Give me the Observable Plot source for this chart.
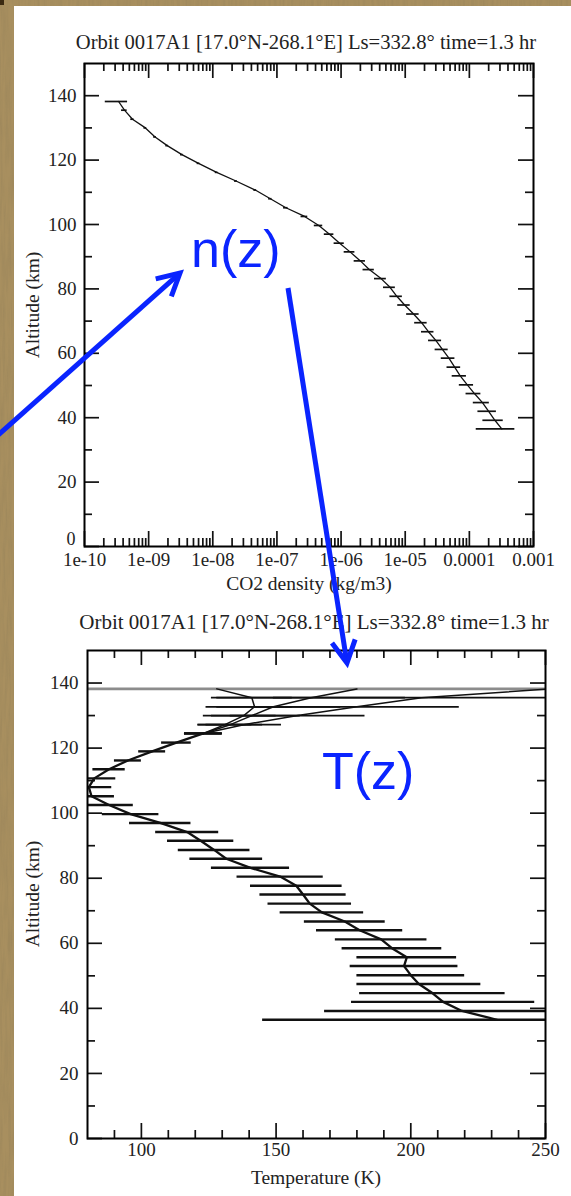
<!DOCTYPE html>
<html><head><meta charset="utf-8">
<script src="https://cdn.jsdelivr.net/npm/d3@7"></script>
<script src="https://cdn.jsdelivr.net/npm/@observablehq/plot@0.6"></script>
<style>
html,body{margin:0;padding:0;}
body{width:571px;height:1196px;background:#a48b5c;position:relative;overflow:hidden;}
#bg{position:absolute;left:0;top:0;}
#panel{position:absolute;left:14px;top:6px;width:557px;height:1190px;background:#fff;}
#corner{position:absolute;left:0;top:0;width:4px;height:5px;background:#3a2a12;}
.plot{position:absolute;left:0;}
#overlay{position:absolute;left:0;top:0;z-index:10;pointer-events:none;}
</style></head><body>
<svg id="bg" width="571" height="1196">
  <filter id="grain" x="0" y="0" width="100%" height="100%">
    <feTurbulence type="fractalNoise" baseFrequency="0.35 0.025" numOctaves="3" seed="7"/>
    <feColorMatrix type="matrix" values="0 0 0 0 0.30  0 0 0 0 0.22  0 0 0 0 0.10  0 0 0 1.6 -0.55"/>
  </filter>
  <rect width="571" height="1196" fill="#a88f5f"/>
  <rect width="571" height="1196" filter="url(#grain)" opacity="0.55"/>
</svg>
<div id="panel"></div>
<div id="corner"></div>
<div id="p1" class="plot" style="top:0"></div>
<div id="p2" class="plot" style="top:600px"></div>
<svg id="overlay" width="571" height="1196"></svg>
<script>
// ---------------- data ----------------
const titleText = "Orbit 0017A1 [17.0°N-268.1°E] Ls=332.8° time=1.3 hr";
const altitude = [36.5,39.2,42.0,44.7,47.5,50.2,53.0,55.7,58.5,61.2,64.0,66.7,69.5,72.2,75.0,77.7,80.5,83.2,86.0,88.7,91.5,94.2,97.0,99.7,102.5,105.2,108.0,110.7,113.5,116.2,119.0,121.7,124.5,127.2,130.0,132.7,135.5,138.2];
const density = [3.2e-4,2.5e-4,2.0e-4,1.6e-4,1.2e-4,9.3e-5,7.2e-5,5.9e-5,4.8e-5,3.8e-5,3.0e-5,2.3e-5,1.8e-5,1.35e-5,9.8e-6,7.4e-6,5.8e-6,4.2e-6,2.75e-6,2.0e-6,1.38e-6,9.5e-7,6.6e-7,4.5e-7,2.7e-7,1.38e-7,7.9e-8,4.6e-8,2.3e-8,1.15e-8,6.0e-9,3.3e-9,1.95e-9,1.26e-9,8.9e-10,5.6e-10,4.2e-10,3.4e-10];
const densityRelErr = [0.6,0.35,0.32,0.28,0.26,0.25,0.25,0.24,0.24,0.23,0.23,0.22,0.22,0.22,0.22,0.22,0.21,0.21,0.2,0.2,0.19,0.18,0.17,0.15,0.12,0.08,0.06,0.05,0.05,0.05,0.05,0.05,0.05,0.05,0.05,0.06,0.1,0.38];
// main temperature profile (altitudes 36.5 .. 124.5 km)
const tempMain = [232,219,212,208,203,200,197.5,198.5,193,189,181,175.5,167,162.5,160,157.5,151.5,140.5,131.5,127,122,117,107,96,88,81.5,80.5,82.5,88,95,104,113,123];
const tempMainErr = [87,51,34,27,23,20,20,18.5,18.5,17,16,15,15.5,15.5,16,17,16,14.5,13.5,13.3,12.3,11.7,11.4,10.5,9,8.5,8.5,8,6,5,5,5.5,7];
// three upper branches (altitudes 124.5 .. 138.2 km)
const tempA = [123,131,138,142,141,128];
const errA  = [7,10,12,14,15,200];
const tempB = [123,133,141,149,163,180];
const errB  = [7,12,18,25,35,200];
const tempC = [123,138,158,180,204,252];
const errC  = [7,14,25,38,55,200];
// axes
const densityDecades = [1e-10,1e-9,1e-8,1e-7,1e-6,1e-5,1e-4,1e-3];
const densityLabels = ["1e-10","1e-09","1e-08","1e-07","1e-06","1e-05","0.0001","0.001"];
const altMajor = [0,20,40,60,80,100,120,140];
const altMinor = [10,30,50,70,90,110,130];
const tempMajor = [100,150,200,250];
const tempMinor = [90,110,120,130,140,160,170,180,190,210,220,230,240];
const altTitle = "Altitude (km)";
const densityTitle = "CO2 density (kg/m3)";
const tempTitle = "Temperature (K)";

// ---------------- layout ----------------
const W = 571;
const serif = "'Liberation Serif','Times New Roman',serif";
const MAJ = 15, MIN = 8;
const ink = "#111";

function frameTicks(pw, ph, xMaj, xMin, yMaj, yMin, xAcc) {
  const o = {stroke: ink, strokeWidth: 1.7};
  return [
    Plot.tickX(xMaj, {x: xAcc, insetTop: ph - MAJ, ...o}),
    Plot.tickX(xMaj, {x: xAcc, insetBottom: ph - MAJ, ...o}),
    Plot.tickX(xMin, {x: xAcc, insetTop: ph - MIN, ...o}),
    Plot.tickX(xMin, {x: xAcc, insetBottom: ph - MIN, ...o}),
    Plot.tickY(yMaj, {y: d => d, insetRight: pw - MAJ, ...o}),
    Plot.tickY(yMaj, {y: d => d, insetLeft: pw - MAJ, ...o}),
    Plot.tickY(yMin, {y: d => d, insetRight: pw - MIN, ...o}),
    Plot.tickY(yMin, {y: d => d, insetLeft: pw - MIN, ...o}),
    Plot.frame({stroke: "#000", strokeWidth: 2})
  ];
}

// ---------- Plot 1: CO2 density ----------
{
  const H = 600, mT = 63, mB = 54, mL = 84, mR = 38;
  const pw = W - mL - mR, ph = H - mT - mB;
  const rows = altitude.map((a, i) => ({alt: a, v: density[i], r: densityRelErr[i]}));
  const minor = densityDecades.slice(0, -1).flatMap(d => [2,3,4,5,6,7,8,9].map(m => m * d));
  const p = Plot.plot({
    width: W, height: H, marginTop: mT, marginBottom: mB, marginLeft: mL, marginRight: mR,
    x: {type: "log", domain: [1e-10, 1e-3], axis: null},
    y: {domain: [0, 150], axis: null},
    style: {fontFamily: serif, fontSize: "19px", color: "#222", background: "transparent", overflow: "visible"},
    marks: [
      Plot.ruleY(rows, {y: "alt", x1: d => d.v * (1 - d.r), x2: d => d.v * (1 + d.r), stroke: ink, strokeWidth: 1.7, clip: true}),
      Plot.line(rows, {x: "v", y: "alt", stroke: ink, strokeWidth: 1.3, clip: true}),
      ...frameTicks(pw, ph, densityDecades, minor, altMajor, altMinor, d => d),
      Plot.text(densityLabels, {x: (d, i) => densityDecades[i], text: d => d, frameAnchor: "bottom", dy: 19, fontSize: 19}),
      Plot.text(altMajor.filter(d => d !== 0), {y: d => d, text: d => String(d), frameAnchor: "left", dx: -8, textAnchor: "end", fontSize: 19}),
      Plot.text([0], {y: d => d, text: d => String(d), frameAnchor: "left", dx: -9, dy: -7, textAnchor: "end", fontSize: 18})
    ]
  });
  document.getElementById("p1").appendChild(p);
}

// ---------- Plot 2: Temperature ----------
{
  const H = 596, mT = 50, mB = 58, mL = 87, mR = 26;
  const pw = W - mL - mR, ph = H - mT - mB;
  const main = tempMain.map((t, i) => ({alt: altitude[i], t, e: tempMainErr[i]}));
  const upAlt = altitude.slice(tempMain.length - 1);
  const mk = (T, E) => T.map((t, i) => ({alt: upAlt[i], t, e: E[i]}));
  const branches = [mk(tempA, errA), mk(tempB, errB), mk(tempC, errC)];
  const allBars = branches.flat();
  const topAlt = upAlt[upAlt.length - 1];
  const p = Plot.plot({
    width: W, height: H, marginTop: mT, marginBottom: mB, marginLeft: mL, marginRight: mR,
    x: {domain: [80, 250], axis: null},
    y: {domain: [0, 150], axis: null},
    style: {fontFamily: serif, fontSize: "19px", color: "#222", background: "transparent", overflow: "visible"},
    marks: [
      Plot.ruleY(allBars.filter(d => d.alt < topAlt), {y: "alt", x1: d => d.t - d.e, x2: d => d.t + d.e, stroke: ink, strokeWidth: 1.7, clip: true}),
      Plot.ruleY(allBars.filter(d => d.alt >= topAlt).slice(0, 1), {y: "alt", x1: d => d.t - d.e, x2: d => d.t + d.e, stroke: "#8c8c8c", strokeWidth: 2.6, clip: true}),
      Plot.ruleY(main, {y: "alt", x1: d => d.t - d.e, x2: d => d.t + d.e, stroke: ink, strokeWidth: 2.4, clip: true}),
      Plot.line(main, {x: "t", y: "alt", stroke: ink, strokeWidth: 2.3, clip: true}),
      ...branches.map(b => Plot.line(b, {x: "t", y: "alt", stroke: ink, strokeWidth: 1.5, clip: true})),
      ...frameTicks(pw, ph, tempMajor, tempMinor, altMajor, altMinor, d => d),
      Plot.text(tempMajor, {x: d => d, text: d => String(d), frameAnchor: "bottom", dy: 17, fontSize: 19}),
      Plot.text(altMajor, {y: d => d, text: d => String(d), frameAnchor: "left", dx: -9, textAnchor: "end", fontSize: 19})
    ]
  });
  document.getElementById("p2").appendChild(p);
}

// ---------------- titles & annotations ----------------
const ov = d3.select("#overlay");
function txt(x, y, s, opt = {}) {
  const t = ov.append("text").attr("x", x).attr("y", y).text(s)
    .attr("font-family", opt.family || serif).attr("font-size", opt.size || 19)
    .attr("fill", opt.fill || "#222").attr("text-anchor", opt.anchor || "middle");
  if (opt.rotate) t.attr("x", 0).attr("y", 0).attr("transform", `translate(${x},${y}) rotate(${opt.rotate})`);
  return t;
}
txt(306, 48.5, titleText, {size: 20.6});
txt(314, 628.5, titleText, {size: 21});
txt(309, 590, densityTitle, {size: 19.5});
txt(316, 1183.5, tempTitle, {size: 19.5});
txt(39, 305, altTitle, {rotate: -90, size: 19.5});
txt(39, 894, altTitle, {rotate: -90, size: 19.5});

const blue = "#0a24ff";
const sans = "'Liberation Sans', Arial, sans-serif";
txt(191, 267, "n(z)", {family: sans, size: 52, fill: blue, anchor: "start"});
txt(322, 789, "T(z)", {family: sans, size: 52, fill: blue, anchor: "start"});

function arrow(tail, tip) {
  const dx = tip[0] - tail[0], dy = tip[1] - tail[1];
  const L = Math.hypot(dx, dy), ux = dx / L, uy = dy / L;
  const hl = 25, ang = 28 * Math.PI / 180;
  const wing = s => [tip[0] - hl * (ux * Math.cos(ang) - s * uy * Math.sin(ang)),
                     tip[1] - hl * (uy * Math.cos(ang) + s * ux * Math.sin(ang))];
  ov.append("line").attr("x1", tail[0]).attr("y1", tail[1]).attr("x2", tip[0] - ux * 2).attr("y2", tip[1] - uy * 2)
    .attr("stroke", blue).attr("stroke-width", 5);
  const w1 = wing(1), w2 = wing(-1);
  ov.append("polyline").attr("points", `${w1[0]},${w1[1]} ${tip[0]},${tip[1]} ${w2[0]},${w2[1]}`)
    .attr("fill", "none").attr("stroke", blue).attr("stroke-width", 5).attr("stroke-linejoin", "miter");
}
arrow([-4, 437], [180, 273]);
arrow([288, 288], [347, 663]);
</script></body></html>
